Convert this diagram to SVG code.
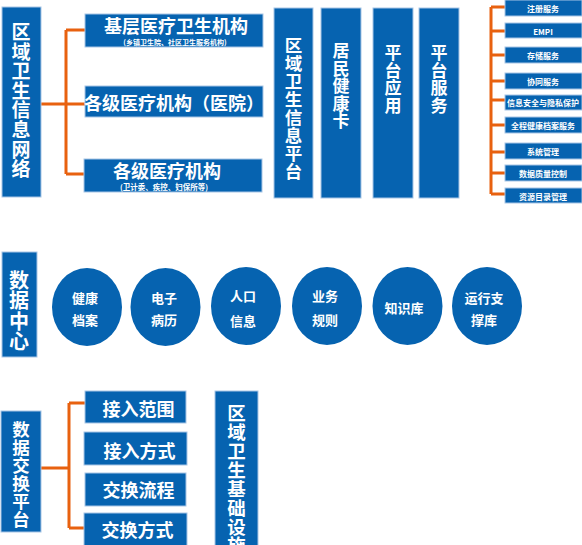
<svg xmlns="http://www.w3.org/2000/svg" width="582" height="545" viewBox="0 0 582 545">
<style>
.b{fill:#0663b0;stroke:#a8c6e6;stroke-width:1}
.c{fill:#0663b0}
.t{fill:#fff;font-family:"Noto Sans CJK SC","Liberation Sans",sans-serif;font-weight:bold;text-anchor:middle;dominant-baseline:central}
.ln{stroke:#e8610f;stroke-width:3;fill:none}
</style>
<rect width="582" height="545" fill="#fff"/>
<g id="connectors">
<path class="ln" d="M41 104H66M66 30V174M66 30H86M66 104H86M66 174H86"/>
<path class="ln" d="M491 7V194M491 7H505M491 31H505M491 55H505M491 81H505M491 100H505M491 125H505M491 152H505M491 173H505M491 194H505"/>
<path class="ln" d="M41 468H69M69 403V528M69 403H86M69 528H86"/>
</g>
<g id="n-wangluo">
<rect class="b" x="2" y="7" width="39" height="190"/>
<text class="t" font-size="19"><tspan x="21" y="30">区</tspan><tspan x="21" y="49.5">域</tspan><tspan x="21" y="69">卫</tspan><tspan x="21" y="88.5">生</tspan><tspan x="21" y="108">信</tspan><tspan x="21" y="128">息</tspan><tspan x="21" y="147.5">网</tspan><tspan x="21" y="167">络</tspan></text>
</g>
<g id="n-jiceng">
<rect class="b" x="85" y="14" width="178" height="33"/>
<text class="t" x="176" y="25" font-size="18">基层医疗卫生机构</text>
<text class="t" x="175" y="41.5" font-size="7">(乡镇卫生院、社区卫生服务机构)</text>
</g>
<g id="n-yiyuan">
<rect class="b" x="85" y="86" width="178" height="31"/>
<text class="t" x="174" y="102" font-size="18">各级医疗机构（医院）</text>
</g>
<g id="n-gejiyl">
<rect class="b" x="84" y="159" width="178" height="33"/>
<text class="t" x="167" y="170" font-size="18">各级医疗机构</text>
<text class="t" x="164" y="186.5" font-size="7.5">(卫计委、疾控、妇保所等)</text>
</g>
<g id="n-pingtai">
<rect class="b" x="274" y="8" width="39" height="190"/>
<text class="t" font-size="17.5"><tspan x="293.5" y="44">区</tspan><tspan x="293.5" y="62">域</tspan><tspan x="293.5" y="80">卫</tspan><tspan x="293.5" y="98">生</tspan><tspan x="293.5" y="116">信</tspan><tspan x="293.5" y="134">息</tspan><tspan x="293.5" y="152">平</tspan><tspan x="293.5" y="170">台</tspan></text>
</g>
<g id="n-jkk">
<rect class="b" x="321" y="8" width="40" height="190"/>
<text class="t" font-size="17"><tspan x="341" y="49">居</tspan><tspan x="341" y="66.5">民</tspan><tspan x="341" y="84">健</tspan><tspan x="341" y="101.5">康</tspan><tspan x="341" y="119">卡</tspan></text>
</g>
<g id="n-yingyong">
<rect class="b" x="373" y="8" width="40" height="190"/>
<text class="t" font-size="17"><tspan x="393" y="51">平</tspan><tspan x="393" y="68.5">台</tspan><tspan x="393" y="86">应</tspan><tspan x="393" y="103.5">用</tspan></text>
</g>
<g id="n-fuwu">
<rect class="b" x="419" y="8" width="40" height="190"/>
<text class="t" font-size="17"><tspan x="439" y="51">平</tspan><tspan x="439" y="68.5">台</tspan><tspan x="439" y="86">服</tspan><tspan x="439" y="103.5">务</tspan></text>
</g>
<g id="n-s1"><rect class="b" x="505" y="0" width="77" height="16"/><text class="t" x="543" y="8" font-size="8">注册服务</text></g>
<g id="n-s2"><rect class="b" x="505" y="23" width="77" height="15"/><text class="t" x="543" y="31" font-size="8">EMPI</text></g>
<g id="n-s3"><rect class="b" x="505" y="47" width="77" height="16"/><text class="t" x="543" y="55" font-size="8">存储服务</text></g>
<g id="n-s4"><rect class="b" x="505" y="73" width="77" height="16"/><text class="t" x="543" y="81" font-size="8">协同服务</text></g>
<g id="n-s5"><rect class="b" x="505" y="95" width="77" height="15"/><text class="t" x="543" y="102" font-size="8">信息安全与隐私保护</text></g>
<g id="n-s6"><rect class="b" x="505" y="117" width="77" height="16"/><text class="t" x="543" y="125" font-size="8">全程健康档案服务</text></g>
<g id="n-s7"><rect class="b" x="505" y="143" width="77" height="16"/><text class="t" x="543" y="151" font-size="8">系统管理</text></g>
<g id="n-s8"><rect class="b" x="505" y="165" width="77" height="16"/><text class="t" x="543" y="173" font-size="8">数据质量控制</text></g>
<g id="n-s9"><rect class="b" x="505" y="188" width="77" height="15"/><text class="t" x="543" y="196" font-size="8">资源目录管理</text></g>
<g id="n-shujuzx">
<rect class="b" x="2" y="252" width="35" height="105"/>
<text class="t" font-size="20"><tspan x="19" y="278.5">数</tspan><tspan x="19" y="299">据</tspan><tspan x="19" y="319.5">中</tspan><tspan x="19" y="340">心</tspan></text>
</g>
<g id="n-c1"><ellipse class="c" cx="87" cy="307" rx="35" ry="39"/><text class="t" font-size="13"><tspan x="85" y="297">健康</tspan><tspan x="85" y="319">档案</tspan></text></g>
<g id="n-c2"><ellipse class="c" cx="165.5" cy="307" rx="35" ry="39"/><text class="t" font-size="13"><tspan x="164" y="297">电子</tspan><tspan x="164" y="319">病历</tspan></text></g>
<g id="n-c3"><ellipse class="c" cx="246" cy="306" rx="35" ry="39"/><text class="t" font-size="13"><tspan x="243" y="295">人口</tspan><tspan x="243" y="320">信息</tspan></text></g>
<g id="n-c4"><ellipse class="c" cx="327" cy="306" rx="35" ry="39"/><text class="t" font-size="13"><tspan x="325" y="295">业务</tspan><tspan x="325" y="319">规则</tspan></text></g>
<g id="n-c5"><ellipse class="c" cx="407.5" cy="306" rx="35" ry="39"/><text class="t" x="404" y="307" font-size="13">知识库</text></g>
<g id="n-c6"><ellipse class="c" cx="487" cy="306" rx="35" ry="39"/><text class="t" font-size="13"><tspan x="484" y="297">运行支</tspan><tspan x="484" y="319">撑库</tspan></text></g>
<g id="n-jiaohuan">
<rect class="b" x="1" y="411" width="40" height="121"/>
<text class="t" font-size="17.5"><tspan x="21" y="428">数</tspan><tspan x="21" y="446">据</tspan><tspan x="21" y="464">交</tspan><tspan x="21" y="482">换</tspan><tspan x="21" y="500">平</tspan><tspan x="21" y="518">台</tspan></text>
</g>
<g id="n-b1"><rect class="b" x="85" y="391" width="101" height="32"/><text class="t" x="138.5" y="408" font-size="18">接入范围</text></g>
<g id="n-b2"><rect class="b" x="84" y="432" width="103" height="33"/><text class="t" x="139.5" y="450" font-size="18">接入方式</text></g>
<g id="n-b3"><rect class="b" x="85" y="473" width="101" height="33"/><text class="t" x="138.5" y="489" font-size="18">交换流程</text></g>
<g id="n-b4"><rect class="b" x="84" y="513" width="103" height="33"/><text class="t" x="137.5" y="529" font-size="18">交换方式</text></g>
<g id="n-jichu">
<rect class="b" x="215" y="391" width="43" height="155"/>
<text class="t" font-size="18.5"><tspan x="236.5" y="411.5">区</tspan><tspan x="236.5" y="430.5">域</tspan><tspan x="236.5" y="449.5">卫</tspan><tspan x="236.5" y="468.5">生</tspan><tspan x="236.5" y="487.5">基</tspan><tspan x="236.5" y="506.5">础</tspan><tspan x="236.5" y="525.5">设</tspan><tspan x="236.5" y="544">施</tspan></text>
</g>
</svg>
